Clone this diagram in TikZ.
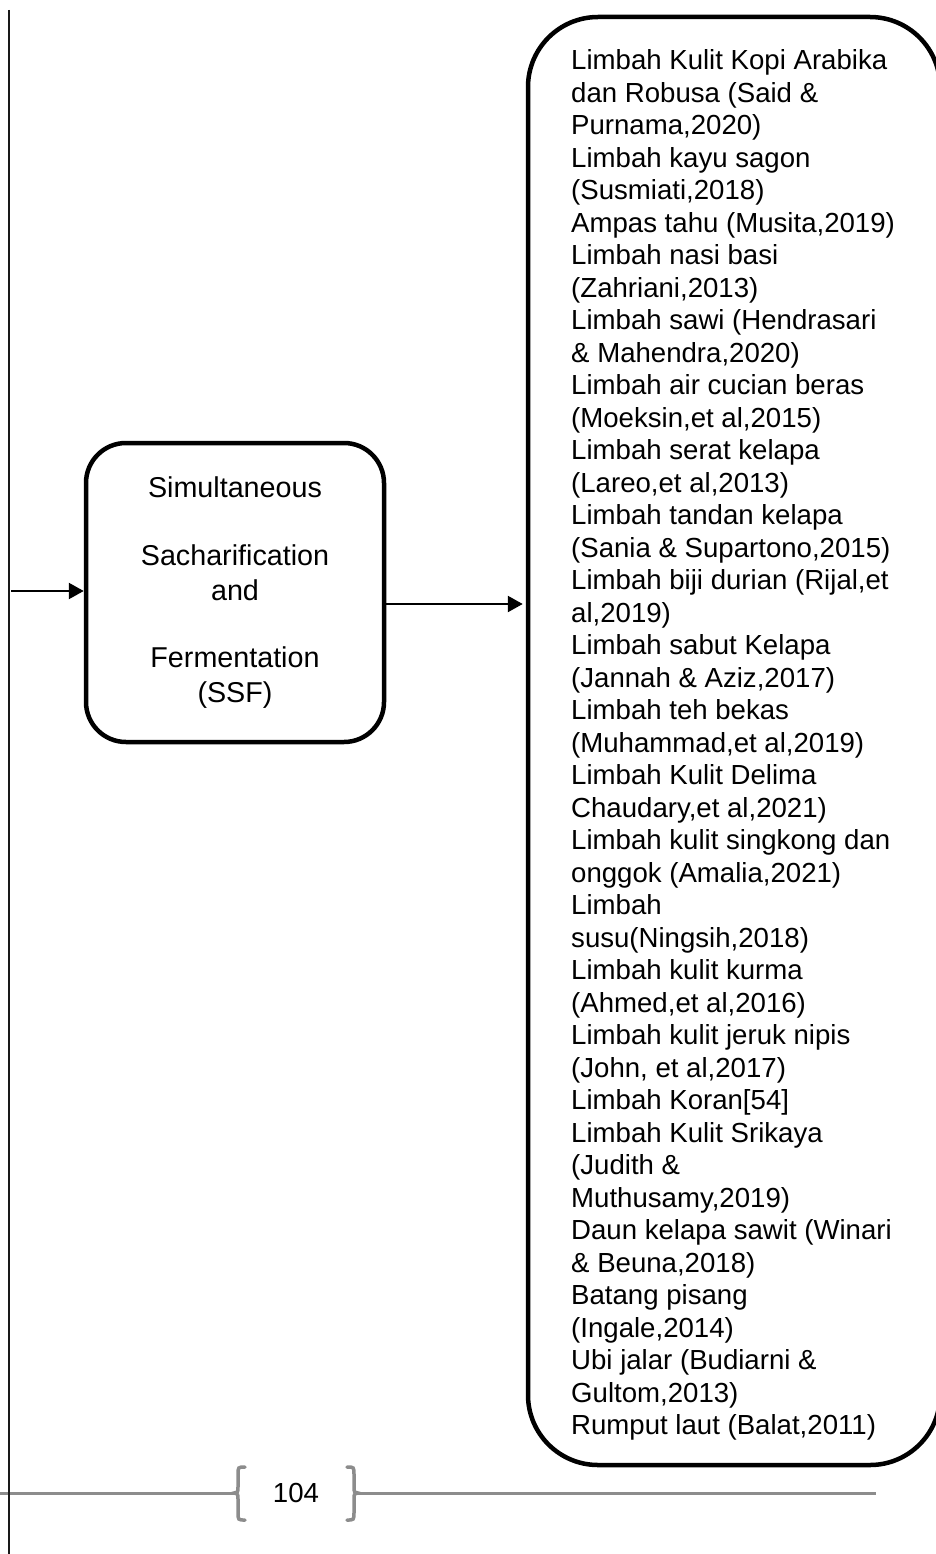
\documentclass[tikz,border=0pt]{standalone}
\usepackage{fontspec}
\setmainfont{Liberation Sans}
\usetikzlibrary{arrows.meta,calc}
\definecolor{footgray}{RGB}{140,140,140}
\begin{document}
\begin{tikzpicture}[x=1pt,y=-1pt,
  procbox/.style={draw=black,line width=4.5pt,rounded corners=40pt,inner sep=0pt,
    minimum width=298pt,minimum height=299pt,align=center,
    font=\fontsize{28.7}{35}\selectfont},
  listbox/.style={draw=black,line width=4.5pt,rounded corners=70pt,inner sep=0pt,
    minimum width=412pt,minimum height=1448pt},
  listtext/.style={inner sep=0pt,align=left,anchor=north west,
    font=\fontsize{27.6}{32.5}\selectfont},
  arr/.style={line width=2.4pt,-{Triangle[length=15pt,width=16pt]}},
  footline/.style={draw=footgray,line width=3pt},
  footbrace/.style={draw=footgray,line width=3.5pt,line cap=round}]
\useasboundingbox (0,0) rectangle (936,1554);

% footer line (under the black vertical line)
\coordinate (fl0) at (0,1493);
\coordinate (fl1) at (234,1493);
\coordinate (fr0) at (358,1493);
\coordinate (fr1) at (876,1493);
\draw[footline] (fl0) -- (fl1);
\draw[footline] (fr0) -- (fr1);
\draw[footbrace] (245,1467) .. controls (238,1467) .. (238,1475) -- (238,1487)
  .. controls (238,1492) .. (234,1493) .. controls (238,1494) .. (238,1499)
  -- (238,1512) .. controls (238,1520) .. (245,1520);
\draw[footbrace] (347,1467) .. controls (354,1467) .. (354,1475) -- (354,1487)
  .. controls (354,1492) .. (358,1493) .. controls (354,1494) .. (354,1499)
  -- (354,1512) .. controls (354,1520) .. (347,1520);
\node[inner sep=0pt,font=\fontsize{27.6}{32}\selectfont] (pg) at (296,1493) {104};

% left vertical line
\coordinate (vt) at (9,10);
\coordinate (vb) at (9,1554);
\draw[line width=1.6pt,black!90] (vt) -- (vb);

% process box
\node[procbox] (ssf) at (235,592.5)
  {Simultaneous\\[33pt]Sacharification\\and\\[32pt]Fermentation\\(SSF)};

% list box
\node[listbox] (ing) at (734,741) {};
\node[listtext] (list) at (571,49.5) {Limbah Kulit Kopi Arabika\\
dan Robusa (Said \&\\
Purnama,2020)\\
Limbah kayu sagon\\
(Susmiati,2018)\\
Ampas tahu (Musita,2019)\\
Limbah nasi basi\\
(Zahriani,2013)\\
Limbah sawi (Hendrasari\\
\& Mahendra,2020)\\
Limbah air cucian beras\\
(Moeksin,et al,2015)\\
Limbah serat kelapa\\
(Lareo,et al,2013)\\
Limbah tandan kelapa\\
(Sania \& Supartono,2015)\\
Limbah biji durian (Rijal,et\\
al,2019)\\
Limbah sabut Kelapa\\
(Jannah \& Aziz,2017)\\
Limbah teh bekas\\
(Muhammad,et al,2019)\\
Limbah Kulit Delima\\
Chaudary,et al,2021)\\
Limbah kulit singkong dan\\
onggok (Amalia,2021)\\
Limbah\\
susu(Ningsih,2018)\\
Limbah kulit kurma\\
(Ahmed,et al,2016)\\
Limbah kulit jeruk nipis\\
(John, et al,2017)\\
Limbah Koran[54]\\
Limbah Kulit Srikaya\\
(Judith \&\\
Muthusamy,2019)\\
Daun kelapa sawit (Winari\\
\& Beuna,2018)\\
Batang pisang\\
(Ingale,2014)\\
Ubi jalar (Budiarni \&\\
Gultom,2013)\\
Rumput laut (Balat,2011)};

% connectors
\coordinate (in) at (11,591);
\draw[arr] (in) -- (in -| ssf.west);
\draw[arr,shorten >=3pt] ([yshift=-11.5pt]ssf.east) -- ([yshift=-11.5pt]ssf.east -| ing.west);
\end{tikzpicture}
\end{document}
